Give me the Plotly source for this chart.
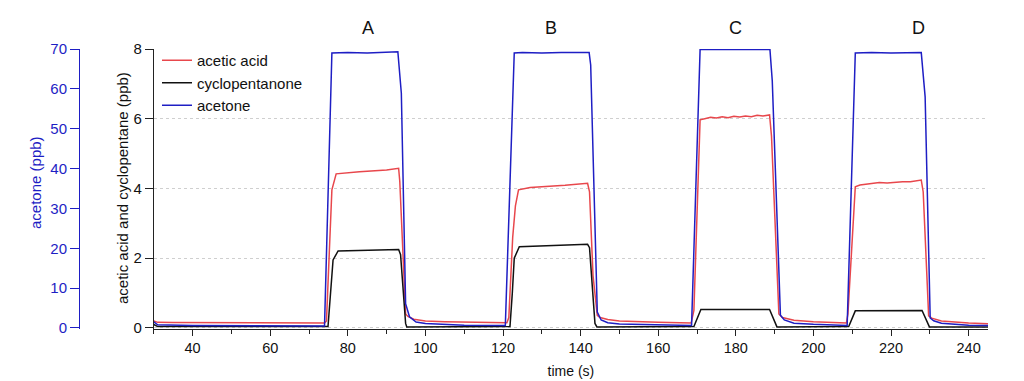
import plotly.graph_objects as go

# ---------------- data ----------------
t_acetic = [30, 31, 35, 50, 65, 74, 74.5, 75.3, 75.9, 77.0, 80, 83, 86, 90, 93.1, 93.4, 94.9, 95.5, 97, 100, 105, 110, 121,
            121.5, 122.5, 123.2, 124.0, 127, 130, 133, 136, 139, 141.8, 142.3, 143.2, 144.3, 145, 147, 150, 160, 168.5,
            169.2, 170.8, 172, 173.5, 175, 176.5, 178, 179.5, 181, 182.5, 184, 185.5, 187, 188.7, 189.2, 191.1, 192, 195,
            200, 208.5, 208.9, 210.8, 212, 213.5, 215, 217, 219, 221, 223, 225, 227.8, 228.3, 229.7, 230.5, 233, 240, 245]
acetic = [0.2, 0.16, 0.155, 0.15, 0.145, 0.14, 0.2, 2.5, 3.96, 4.42, 4.46, 4.48, 4.5, 4.53, 4.58, 4.2, 0.4, 0.33, 0.25, 0.2, 0.18, 0.17, 0.15,
          0.3, 2.6, 3.5, 3.96, 4.03, 4.06, 4.07, 4.09, 4.11, 4.15, 3.9, 1.5, 0.36, 0.3, 0.24, 0.2, 0.16, 0.14,
          0.5, 5.97, 6.0, 6.04, 6.02, 6.06, 6.03, 6.07, 6.05, 6.08, 6.06, 6.1, 6.08, 6.11, 5.5, 0.4, 0.3, 0.22,
          0.18, 0.14, 0.4, 4.05, 4.1, 4.12, 4.15, 4.17, 4.16, 4.18, 4.19, 4.19, 4.24, 3.9, 0.35, 0.28, 0.2, 0.14, 0.12]

t_cyclo = [30, 31, 74.9, 75.5, 76.2, 77.5, 85, 93.1, 93.6, 94.9, 95.2, 121.8, 122.4, 122.9, 124.2, 127, 130, 135, 141.8, 142.3,
           143.7, 144.2, 169.2, 171.0, 180, 188.7, 190.6, 209.1, 210.8, 220, 228.0, 229.9, 245]
cyclo = [0.1, 0.04, 0.04, 1.0, 1.95, 2.21, 2.23, 2.25, 2.1, 0.13, 0.03, 0.04, 1.0, 2.0, 2.33, 2.34, 2.36, 2.37, 2.40, 2.3,
         0.13, 0.03, 0.04, 0.53, 0.54, 0.53, 0.03, 0.04, 0.49, 0.5, 0.5, 0.03, 0.03]

t_acetone = [30, 31, 40, 74.0, 75.9, 80, 85, 90, 92.9, 93.8, 94.9, 95.9, 97.6, 100, 103.6, 110, 120.6, 122.9, 125, 130, 135,
             142.2, 142.6, 144.3, 145.3, 147, 150, 160, 168.6, 170.8, 175, 180, 185, 188.8, 189.4, 191.5, 192.5, 195, 200,
             208.7, 210.8, 215, 220, 227.8, 228.8, 230.1, 231, 233, 240, 245]
acetone = [1.5, 0.8, 0.6, 0.5, 69.0, 69.1, 69.0, 69.2, 69.3, 58.9, 6.1, 2.8, 1.5, 1.1, 0.9, 0.7, 0.6, 69.0, 69.1, 69.0, 69.1,
           69.1, 66.0, 4.0, 2.0, 1.3, 1.0, 0.7, 0.6, 69.9, 69.9, 69.8, 69.9, 69.9, 62.0, 3.2, 2.0, 1.2, 0.9,
           0.6, 69.0, 69.1, 69.0, 69.1, 58.0, 2.5, 1.8, 1.2, 0.7, 0.6]

peak_labels = ["A", "B", "C", "D"]
peak_label_x = [85.1, 132.4, 179.9, 227.1]

x_ticks = [40, 60, 80, 100, 120, 140, 160, 180, 200, 220, 240]
y_ticks = [0, 2, 4, 6, 8]
acetone_ticks = [0, 10, 20, 30, 40, 50, 60, 70]

# ---------------- styles ----------------
RED = "#e8474c"
BLACK = "#111111"
BLUE = "#1e1ec4"
FONT = "Liberation Sans, Arial, sans-serif"

fig = go.Figure()
fig.add_trace(go.Scatter(x=t_acetic, y=acetic, mode="lines", name="acetic acid",
                         line=dict(color=RED, width=1.5)))
fig.add_trace(go.Scatter(x=t_cyclo, y=cyclo, mode="lines", name="cyclopentanone",
                         line=dict(color=BLACK, width=1.5)))
fig.add_trace(go.Scatter(x=t_acetone, y=acetone, mode="lines", name="acetone",
                         line=dict(color=BLUE, width=1.5), yaxis="y2"))

# page body has an 8px margin -> figure drawn at (8, 8) in the window
OFF = 8
W, H = 1024 - OFF, 381 - OFF
ML, MR, MT, MB = 52, 36, 41, 52
pw = W - ML - MR
ph = H - MT - MB

def px_x(p):  # window pixel -> paper x
    return (p - OFF - ML) / pw

def px_y(p):  # window pixel -> paper y
    return (H - MB - (p - OFF)) / ph

fig.update_layout(
    width=W, height=H,
    margin=dict(l=ML, r=MR, t=MT, b=MB, autoexpand=False),
    paper_bgcolor="white", plot_bgcolor="white",
    font=dict(family=FONT, size=15, color="#111"),
    showlegend=True,
    legend=dict(x=px_x(157), y=px_y(44), xanchor="left", yanchor="top",
                bgcolor="rgba(0,0,0,0)", font=dict(size=15), itemwidth=30),
    xaxis=dict(domain=[px_x(153.8), 1], range=[30, 245], showgrid=False, zeroline=False,
               showline=True, linecolor="#222", linewidth=1,
               tickvals=x_ticks, ticks="outside", ticklen=6, tickcolor="#222",
               tickfont=dict(size=14.5),
               minor=dict(dtick=10, tick0=0, ticks="outside", ticklen=4, tickcolor="#222", showgrid=False),
               title=dict(text="time (s)", font=dict(size=14), standoff=10), automargin=False),
    yaxis=dict(range=[-0.03, 8], showgrid=True, gridcolor="#cfcfcf", griddash="dot", gridwidth=1,
               zeroline=False, showline=True, linecolor="#222", linewidth=1,
               tickvals=y_ticks, ticks="outside", ticklen=8, tickcolor="#222",
               tickfont=dict(size=15), automargin=False),
    yaxis2=dict(range=[-0.03 * 70 / 8, 70], overlaying="y", anchor="free", position=px_x(79), side="left",
                showgrid=False, zeroline=False, showline=True, linecolor=BLUE, linewidth=1,
                tickvals=acetone_ticks, ticks="outside", ticklen=9, tickcolor=BLUE,
                tickfont=dict(size=15, color=BLUE), automargin=False),
)

annotations = [
    dict(text="acetone (ppb)", x=px_x(35), y=px_y(183), xref="paper", yref="paper", textangle=-90,
         showarrow=False, font=dict(size=15, color=BLUE), xanchor="center", yanchor="middle"),
    dict(text="acetic acid and cyclopentane (ppb)", x=px_x(122), y=px_y(188), xref="paper", yref="paper",
         textangle=-90, showarrow=False, font=dict(size=15, color="#111"), xanchor="center", yanchor="middle"),
]
for lab, xv in zip(peak_labels, peak_label_x):
    annotations.append(dict(text=lab, x=xv, y=px_y(28), xref="x", yref="paper", showarrow=False,
                            font=dict(size=18, color="#111"), xanchor="center", yanchor="middle"))
fig.update_layout(annotations=annotations)

fig.write_html("out.html")
